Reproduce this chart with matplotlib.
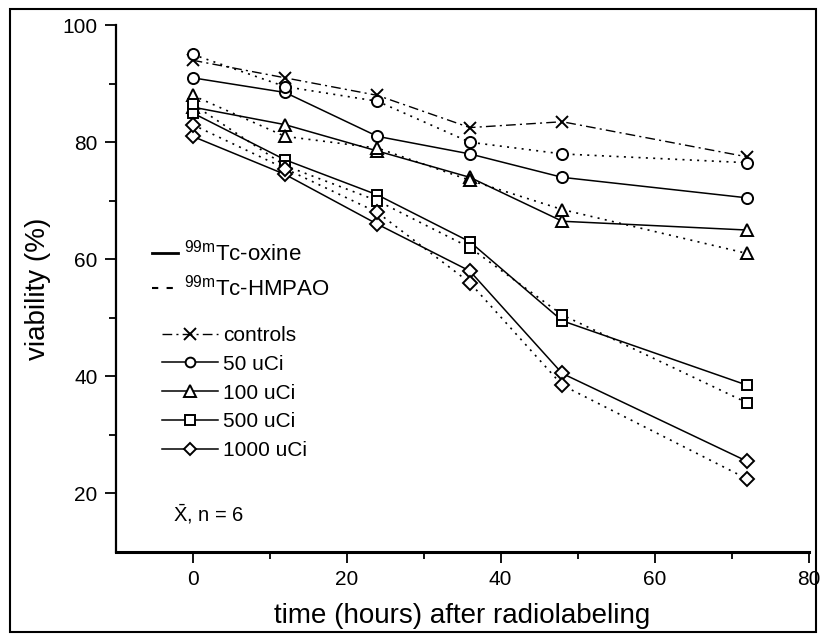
import matplotlib
matplotlib.use("Agg")
import matplotlib.pyplot as plt
from matplotlib.lines import Line2D
from matplotlib.patches import Rectangle

plt.rcParams['font.family'] = ['Liberation Sans', 'DejaVu Sans']
plt.rcParams['mathtext.fontset'] = 'custom'
plt.rcParams['mathtext.rm'] = 'Liberation Sans'
plt.rcParams['mathtext.it'] = 'Liberation Sans:italic'

hours = [0, 12, 24, 36, 48, 72]
controls = [94, 91, 88, 82.5, 83.5, 77.5]
oxine_50 = [91, 88.5, 81, 78, 74, 70.5]
hmpao_50 = [95, 89.5, 87, 80, 78, 76.5]
oxine_100 = [86, 83, 78.5, 74, 66.5, 65]
hmpao_100 = [88, 81, 79, 73.5, 68.5, 61]
oxine_500 = [85, 77, 71, 63, 49.5, 38.5]
hmpao_500 = [86.5, 76, 70, 62, 50.5, 35.5]
oxine_1000 = [81, 74.5, 66, 58, 40.5, 25.5]
hmpao_1000 = [83, 75.5, 68, 56, 38.5, 22.5]

dose_labels = ['controls', '50 uCi', '100 uCi', '500 uCi', '1000 uCi']
tracer_labels = [r'$^{\mathrm{99m}}$Tc-oxine', r'$^{\mathrm{99m}}$Tc-HMPAO']
xticks = [0, 20, 40, 60, 80]
yticks = [20, 40, 60, 80, 100]

fig = plt.figure(figsize=(8.26, 6.41), dpi=100)
ax = fig.add_axes([0.140, 0.1388, 0.839, 0.822])

# outer frame
fig.patches.append(Rectangle((0.012, 0.014), 0.976, 0.972, transform=fig.transFigure,
                             fill=False, edgecolor='black', lw=1.5))

dotted = (0, (1.2, 3.2))
dashdot = (0, (7, 3, 1.5, 3))
mk = dict(markerfacecolor='white', markeredgecolor='black', markeredgewidth=1.4, color='black')

ax.plot(hours, controls, linestyle=dashdot, lw=1.0, marker='x', markersize=9, zorder=3, **mk)
for sol, dot, m, ms in [(oxine_50, hmpao_50, 'o', 8),
                        (oxine_100, hmpao_100, '^', 8.5),
                        (oxine_500, hmpao_500, 's', 7.5),
                        (oxine_1000, hmpao_1000, 'D', 7)]:
    ax.plot(hours, sol, linestyle='-', lw=1.1, marker=m, markersize=ms, zorder=3, **mk)
    ax.plot(hours, dot, linestyle=dotted, lw=1.2, marker=m, markersize=ms, zorder=3, **mk)

ax.set_xlim(-10, 80)
ax.set_ylim(10, 100)
ax.set_xticks(xticks)
ax.set_yticks(yticks)
ax.set_xticks([10, 30, 50, 70], minor=True)
ax.set_yticks([30, 50, 70, 90], minor=True)
for s in ['top', 'right']:
    ax.spines[s].set_visible(False)
ax.spines['left'].set_linewidth(1.6)
ax.spines['bottom'].set_linewidth(2.2)
ax.tick_params(axis='both', which='major', direction='out', length=8, width=1.3,
               labelsize=15, pad=5)
ax.tick_params(axis='both', which='minor', direction='out', length=5, width=1.3)
ax.set_xlabel('time (hours) after radiolabeling', fontsize=20, labelpad=10)
ax.set_ylabel('viability (%)', fontsize=20, labelpad=8)

# legend 1: tracers
h1 = [Line2D([], [], color='black', lw=2.0, linestyle='-'),
      Line2D([], [], color='black', lw=1.5, linestyle=(0, (3, 4)))]
leg1 = ax.legend(h1, tracer_labels, loc='upper left', bbox_to_anchor=(152/826, 1 - 240/641),
                 bbox_transform=fig.transFigure, frameon=False, fontsize=16,
                 handlelength=1.15, handletextpad=0.3, labelspacing=0.4, borderpad=0,
                 borderaxespad=0)
ax.add_artist(leg1)

# legend 2: doses
h2 = [Line2D([], [], linestyle=dashdot, lw=1.0, marker='x', markersize=8, **mk),
      Line2D([], [], linestyle='-', lw=1.1, marker='o', markersize=7, **mk),
      Line2D([], [], linestyle='-', lw=1.1, marker='^', markersize=8, **mk),
      Line2D([], [], linestyle='-', lw=1.1, marker='s', markersize=7, **mk),
      Line2D([], [], linestyle='-', lw=1.1, marker='D', markersize=6.5, **mk)]
leg2 = ax.legend(h2, dose_labels, loc='upper left', bbox_to_anchor=(162/826, 1 - 326/641),
                 bbox_transform=fig.transFigure, frameon=False, fontsize=15,
                 handlelength=2.7, handletextpad=0.25, labelspacing=0.47, borderpad=0,
                 borderaxespad=0)

fig.text(173/826, 1 - 514/641, r'$\bar{\mathrm{X}}$, n = 6', fontsize=14.5, va='center', ha='left')

fig.savefig('out.png', dpi=100)
